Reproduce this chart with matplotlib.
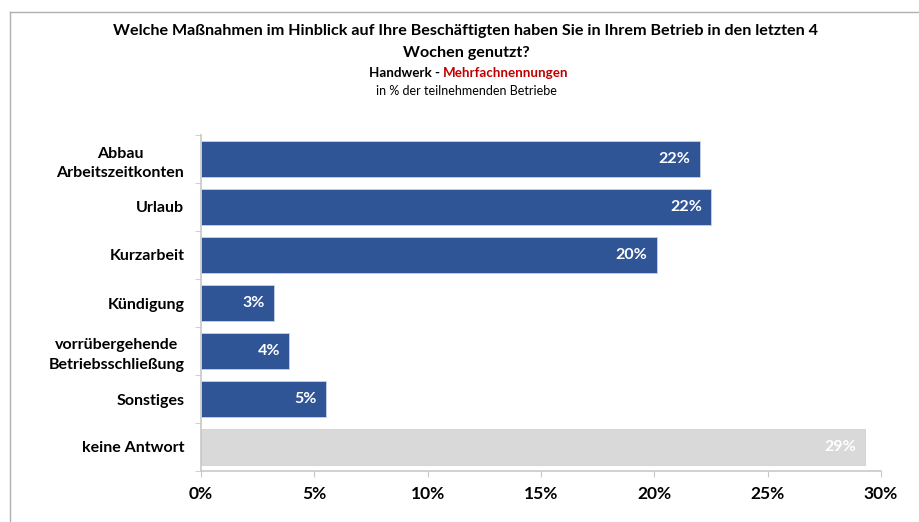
import matplotlib.pyplot as plt
from matplotlib.lines import Line2D

categories = ['Abbau\nArbeitszeitkonten', 'Urlaub', 'Kurzarbeit', 'Kündigung',
              'vorrübergehende\nBetriebsschließung', 'Sonstiges', 'keine Antwort']
values = [22.0, 22.5, 20.1, 3.2, 3.9, 5.5, 29.3]
labels = ['22%', '22%', '20%', '3%', '4%', '5%', '29%']
xticks = [0, 5, 10, 15, 20, 25, 30]

blue = '#2F5597'
grey = '#D9D9D9'
colors = [blue] * 6 + [grey]

plt.rcParams['font.family'] = ['Lato', 'DejaVu Sans']

fig = plt.figure(figsize=(9.19, 5.22), dpi=100)
ax = fig.add_axes([201 / 919, 1 - 471 / 522, 680 / 919, 336 / 522])

ypos = list(range(len(categories)))
ax.barh(ypos, values, height=0.75, color=colors, edgecolor='#c9d3e6', linewidth=0.6)
ax.set_ylim(len(categories) - 0.5, -0.5)
ax.set_xlim(0, 30)

for y, v, lab in zip(ypos, values, labels):
    ax.text(v - 0.4, y, lab, ha='right', va='center', color='white',
            fontsize=11.5, fontweight='bold')

# category labels
ax.set_yticks(ypos)
ax.set_yticklabels(categories, fontsize=11.5, fontweight='bold',
                   multialignment='center', linespacing=1.5)
ax.set_yticks([i + 0.5 for i in range(-1, len(categories))], minor=True)
ax.tick_params(axis='y', which='major', length=0, pad=12)
ax.tick_params(axis='y', which='minor', length=4, color='#c8c8c8')

ax.set_xticks(xticks)
ax.set_xticklabels([f'{t}%' for t in xticks], fontsize=12.5, fontweight='bold')
ax.tick_params(axis='x', length=4, color='#c8c8c8', pad=7)

for s in ['top', 'right']:
    ax.spines[s].set_visible(False)
for s in ['left', 'bottom']:
    ax.spines[s].set_color('#c8c8c8')
    ax.spines[s].set_linewidth(1.2)

# titles
cx = 466 / 919
fig.text(cx, 1 - 31 / 522, 'Welche Maßnahmen im Hinblick auf Ihre Beschäftigten haben Sie in Ihrem Betrieb in den letzten 4',
         ha='center', va='center', fontsize=11.6, fontweight='bold')
fig.text(cx, 1 - 53 / 522, 'Wochen genutzt?', ha='center', va='center', fontsize=11.6, fontweight='bold')
fig.text(cx - 0.025, 1 - 73 / 522, 'Handwerk - ', ha='right', va='center', fontsize=9.6, fontweight='bold')
fig.text(cx - 0.025, 1 - 73 / 522, 'Mehrfachnennungen', ha='left', va='center', fontsize=9.6,
         fontweight='bold', color='#C00000')
fig.text(cx, 1 - 91 / 522, 'in % der teilnehmenden Betriebe', ha='center', va='center', fontsize=9)

# outer frame lines
fig.add_artist(Line2D([10 / 919, 10 / 919], [0, 1 - 12 / 522], transform=fig.transFigure,
                      color='#b0b0b0', linewidth=1))
fig.add_artist(Line2D([10 / 919, 1], [1 - 12 / 522, 1 - 12 / 522], transform=fig.transFigure,
                      color='#b0b0b0', linewidth=1))

fig.savefig('out.png', dpi=100)
